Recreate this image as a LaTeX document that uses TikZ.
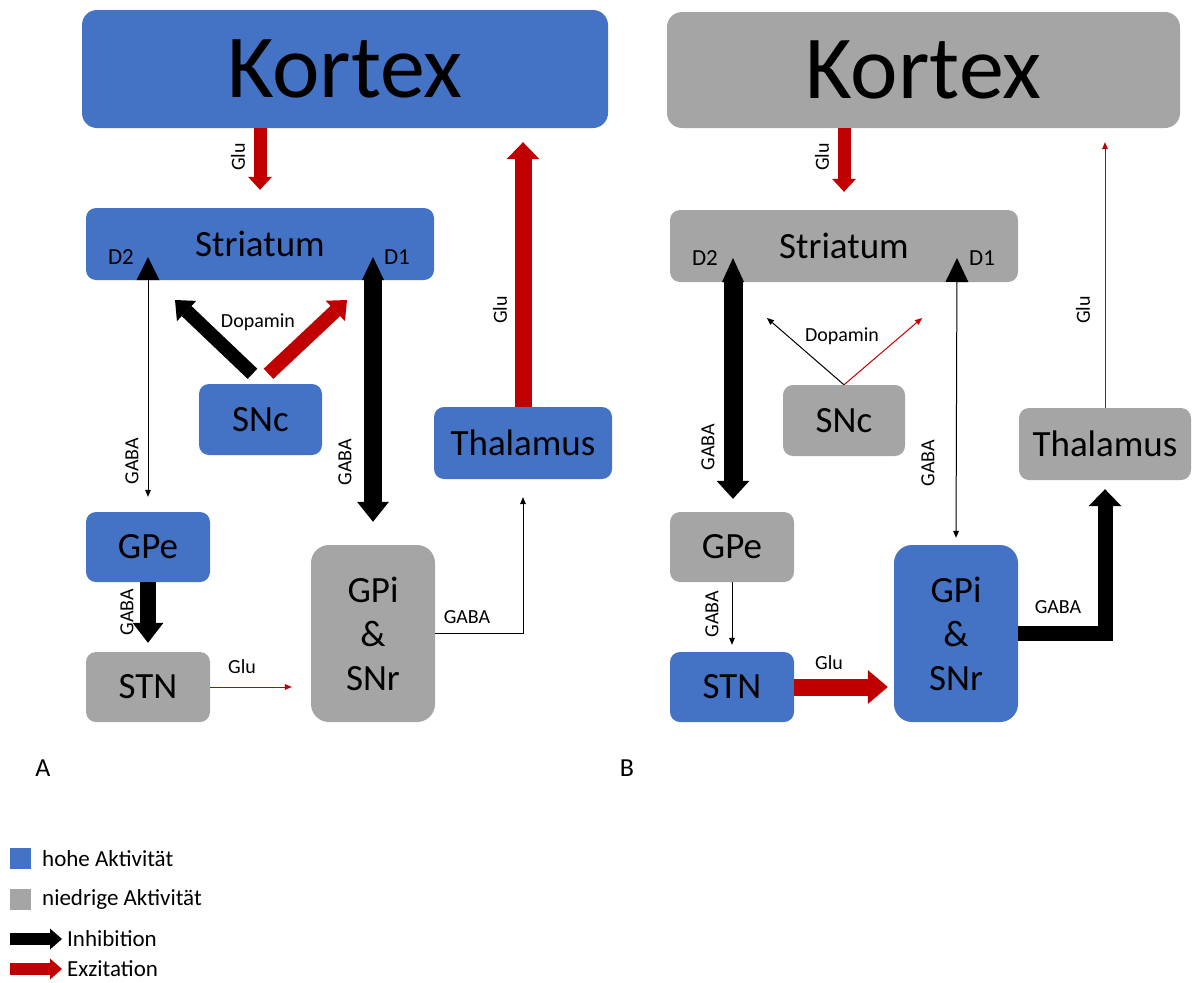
\documentclass[tikz,border=0pt]{standalone}
\usepackage{fontspec}
\setmainfont{Carlito}
\usetikzlibrary{arrows.meta}
\definecolor{hi}{HTML}{4472C4}
\definecolor{lo}{HTML}{A5A5A5}
\definecolor{exz}{HTML}{C00000}
\begin{document}
\begin{tikzpicture}[x=1pt,y=-1pt,
  box/.style={rounded corners=10pt, inner sep=0pt, align=center, font=\fontsize{37}{44}\selectfont},
  hibox/.style={box, fill=hi},
  lobox/.style={box, fill=lo},
  lbl/.style={font=\fontsize{20}{22}\selectfont, inner sep=0pt},
  rlbl/.style={lbl, rotate=90},
  dlbl/.style={font=\fontsize{23}{26}\selectfont, inner sep=0pt},
  leg/.style={font=\fontsize{23}{26}\selectfont, inner sep=0pt, anchor=west},
  thinarr/.style={line width=1pt, -{Triangle[width=6pt,length=7pt,line width=0pt]}},
]
\useasboundingbox (0,0) rectangle (1192,983);

% ---------------- Panel A ----------------
\node[hibox, rounded corners=15pt, minimum width=526pt, minimum height=118pt, font=\fontsize{90}{100}\selectfont] (kA) at (345,69) {Kortex};
\node[hibox, minimum width=348pt, minimum height=72pt] (sA) at (260,244) {Striatum};
\node[hibox, minimum width=123pt, minimum height=71pt] (snA) at (260.5,419.5) {SNc};
\node[hibox, minimum width=178pt, minimum height=72pt] (thA) at (523,443) {Thalamus};
\node[hibox, minimum width=124pt, minimum height=70pt] (gpeA) at (148,547) {GPe};
\node[lobox, minimum width=124pt, minimum height=70pt] (stnA) at (148,687) {STN};
\node[lobox, rounded corners=18pt, minimum width=124pt, minimum height=177pt] (gpiA) at (373,633.5) {GPi\\\&\\SNr};

\node[dlbl] (d2lA) at (121,257) {D2};
\node[dlbl] (d1lA) at (397,257) {D1};

\coordinate (d2A) at (148,257);
\coordinate (d1A) at (373,257);
\coordinate (dpA1) at (175,300);
\coordinate (dpA2) at (347,300);

% Kortex -> Striatum
\draw[exz, line width=13pt, -{Triangle[width=24pt,length=13pt,line width=0pt]}, shorten >=18pt] (kA.south -| sA.north) -- (sA.north);
% D2 -> GPe (thin)
\draw[line width=1pt, {Triangle[width=23pt,length=23pt,line width=0pt]}-{Triangle[width=6pt,length=7pt,line width=0pt]}, shorten >=15pt] (d2A) -- (d2A |- gpeA.north);
% D1 -> GPi (thick)
\draw[line width=18pt, {Triangle[width=22pt,length=23pt,line width=0pt]}-{Triangle[width=32pt,length=20pt,line width=0pt]}, shorten >=23pt] (d1A) -- (d1A |- gpiA.north);
% Dopamin
\draw[line width=14pt, -{Triangle[width=28pt,length=16pt,line width=0pt]}] ([xshift=-8pt,yshift=10pt]snA.north) -- (dpA1);
\draw[exz, line width=14pt, -{Triangle[width=28pt,length=16pt,line width=0pt]}] ([xshift=8pt,yshift=10pt]snA.north) -- (dpA2);
% Thalamus -> Kortex
\draw[exz, line width=17pt, -{Triangle[width=33pt,length=17pt,line width=0pt]}, shorten >=14pt] (thA.north) -- (thA.north |- kA.south);
% GPe -> STN
\draw[line width=16pt, -{Triangle[width=31pt,length=20pt,line width=0pt]}, shorten >=9pt] (gpeA.south) -- (stnA.north);
% STN -> GPi
\draw[exz, thinarr, shorten >=19pt] (stnA.east) -- (stnA.east -| gpiA.west);
% GPi -> Thalamus
\draw[thinarr, shorten >=18pt] (gpiA.east) -| (thA.south);

\node[rlbl] (lA1) at (238,157) {Glu};
\node[lbl] (lA2) at (258,322) {Dopamin};
\node[rlbl] (lA3) at (132,461) {GABA};
\node[rlbl] (lA4) at (345,462) {GABA};
\node[rlbl] (lA5) at (500,310) {Glu};
\node[rlbl] (lA6) at (127,612) {GABA};
\node[lbl] (lA7) at (242,667) {Glu};
\node[lbl] (lA8) at (467,617) {GABA};

% ---------------- Panel B ----------------
\node[lobox, rounded corners=15pt, minimum width=513pt, minimum height=116pt, font=\fontsize{90}{100}\selectfont] (kB) at (923.5,70) {Kortex};
\node[lobox, minimum width=348pt, minimum height=72pt] (sB) at (844,246) {Striatum};
\node[lobox, minimum width=122pt, minimum height=71pt] (snB) at (844,420.5) {SNc};
\node[lobox, minimum width=172pt, minimum height=72pt] (thB) at (1105,444) {Thalamus};
\node[lobox, minimum width=124pt, minimum height=70pt] (gpeB) at (732,547) {GPe};
\node[hibox, minimum width=124pt, minimum height=70pt] (stnB) at (732,687) {STN};
\node[hibox, rounded corners=18pt, minimum width=124pt, minimum height=177pt] (gpiB) at (956,633.5) {GPi\\\&\\SNr};

\node[dlbl] (d2lB) at (705,258) {D2};
\node[dlbl] (d1lB) at (982,258) {D1};

\coordinate (d2B) at (733,258);
\coordinate (d1B) at (957,258);
\coordinate (dpB1) at (767,318);
\coordinate (dpB2) at (922,318);

% Kortex -> Striatum
\draw[exz, line width=13pt, -{Triangle[width=24pt,length=13pt,line width=0pt]}, shorten >=18pt] (kB.south -| sB.north) -- (sB.north);
% D2 -> GPe (thick)
\draw[line width=19pt, {Triangle[width=22pt,length=24pt,line width=0pt]}-{Triangle[width=33pt,length=18pt,line width=0pt]}, shorten >=13pt] (d2B) -- (d2B |- gpeB.north);
% D1 -> GPi (thin)
\draw[line width=1pt, {Triangle[width=23pt,length=24pt,line width=0pt]}-{Triangle[width=6pt,length=7pt,line width=0pt]}, shorten >=7pt] (d1B) -- (gpiB.north);
% Dopamin
\draw[thinarr] (snB.north) -- (dpB1);
\draw[exz, thinarr] (snB.north) -- (dpB2);
% Thalamus -> Kortex
\draw[exz, thinarr, shorten >=14pt] (thB.north) -- (thB.north |- kB.south);
% GPe -> STN
\draw[thinarr, shorten >=7pt] (gpeB.south) -- (stnB.north);
% STN -> GPi
\draw[exz, line width=17pt, -{Triangle[width=34pt,length=20pt,line width=0pt]}, shorten >=6pt] (stnB.east) -- (stnB.east -| gpiB.west);
% GPi -> Thalamus
\draw[line width=15pt, line join=miter, -{Triangle[width=33pt,length=17pt,line width=0pt]}, shorten >=9pt] (gpiB.east) -| (thB.south);

\node[rlbl] (lB1) at (822,157) {Glu};
\node[lbl] (lB2) at (842,336) {Dopamin};
\node[rlbl] (lB3) at (708,447) {GABA};
\node[rlbl] (lB4) at (928,463) {GABA};
\node[rlbl] (lB5) at (1083,310) {Glu};
\node[rlbl] (lB6) at (712,614) {GABA};
\node[lbl] (lB7) at (829,663) {Glu};
\node[lbl] (lB8) at (1058,607) {GABA};

% ---------------- Panel letters ----------------
\node[font=\fontsize{26}{30}\selectfont, inner sep=0pt] (pA) at (43,768) {A};
\node[font=\fontsize{26}{30}\selectfont, inner sep=0pt] (pB) at (627,768) {B};

% ---------------- Legend ----------------
\node[fill=hi, minimum size=21pt, inner sep=0pt] (lgHi) at (20,858) {};
\node[leg] (lgHiT) at (42,859) {hohe Aktivität};
\node[fill=lo, minimum size=21pt, inner sep=0pt] (lgLo) at (20,899) {};
\node[leg] (lgLoT) at (42,899) {niedrige Aktivität};
\coordinate (li1) at (10,939);
\coordinate (li2) at (62,939);
\draw[line width=12pt, -{Triangle[width=21pt,length=12pt,line width=0pt]}] (li1) -- (li2);
\node[leg] (lgInh) at (67,939) {Inhibition};
\coordinate (le1) at (10,969);
\coordinate (le2) at (62,969);
\draw[exz, line width=12pt, -{Triangle[width=21pt,length=12pt,line width=0pt]}] (le1) -- (le2);
\node[leg] (lgExz) at (67,969) {Exzitation};
\end{tikzpicture}
\end{document}
